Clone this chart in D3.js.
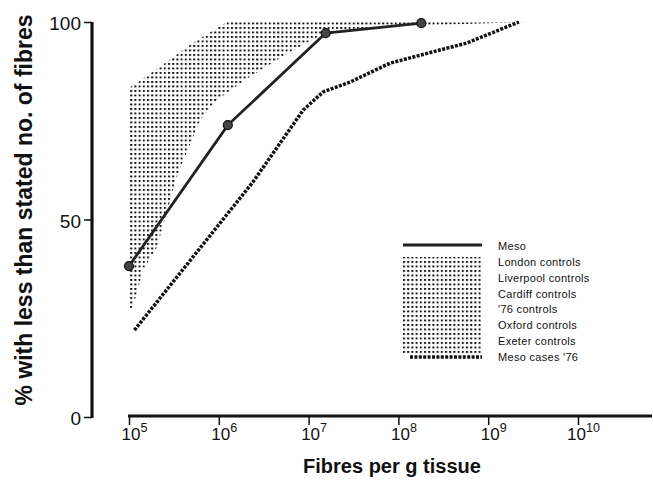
<!DOCTYPE html>
<html>
<head>
<meta charset="utf-8">
<script src="https://cdn.jsdelivr.net/npm/d3@7"></script>
<style>
  body { margin: 0; background: #fff; }
  svg { display: block; font-family: "Liberation Sans", Arial, sans-serif; }
</style>
</head>
<body>
<svg width="653" height="483"></svg>
<script>
// values
const fibresTicks = [1e5, 1e6, 1e7, 1e8, 1e9, 1e10]
const pctTicks = [0, 50, 100]

const mesoFibres = [1.0e5, 1.26e6, 1.55e7, 1.8e8]
const mesoPct = [38.2, 73.9, 97.2, 99.7]

const cases76Fibres = [1.15e5, 2.4e6, 8.7e6, 1.45e7, 2.9e7, 8.1e7, 5.8e8, 2.2e9]
const cases76Pct = [22.0, 59.5, 77.7, 82.3, 84.8, 89.6, 94.7, 100]

// envelope of the control groups (stippled band)
const ctrlUpperFibres = [1.0e5, 1.0e5, 1.23e5, 2.2e5, 5.1e5, 1.23e6, 2.8e9]
const ctrlUpperPct = [27.6, 83.3, 84.6, 88.6, 94.7, 100, 100]
const ctrlLowerFibres = [2.8e9, 2.2e8, 1.74e7, 6.2e6, 2.2e6, 9.6e5, 6.2e5, 3.4e5, 2.05e5, 1.43e5, 1.23e5, 1.08e5]
const ctrlLowerPct = [100, 99.2, 98.0, 92.4, 86.1, 80.3, 75.2, 60.8, 43.0, 37.2, 31.4, 27.6]

const legendLabels = ["Meso", "London controls", "Liverpool controls", "Cardiff controls",
  "'76 controls", "Oxford controls", "Exeter controls", "Meso cases '76"]

const svg = d3.select("svg")
const x = d3.scaleLog().domain([1e5, 1e10]).range([129, 578])
const y = d3.scaleLinear().domain([0, 100]).range([417, 22])

const defs = svg.append("defs")
defs.append("pattern").attr("id", "dots")
  .attr("patternUnits", "userSpaceOnUse").attr("width", 4.2).attr("height", 4.5)
  .append("rect").attr("width", 2).attr("height", 1.9).attr("fill", "#111")

const zip = (xs, ys) => xs.map((v, i) => [v, ys[i]])
const line = d3.line().x(d => x(d[0])).y(d => y(d[1]))

// stippled controls band
const band = zip(ctrlUpperFibres, ctrlUpperPct).concat(zip(ctrlLowerFibres, ctrlLowerPct))
svg.append("path").attr("d", line(band) + "Z").attr("fill", "url(#dots)")

// Meso cases '76
svg.append("path").attr("d", line(zip(cases76Fibres, cases76Pct)))
  .attr("fill", "none").attr("stroke", "#111").attr("stroke-width", 3.5)
  .attr("stroke-dasharray", "3,1.4")

// Meso
const meso = zip(mesoFibres, mesoPct)
svg.append("path").attr("d", line(meso))
  .attr("fill", "none").attr("stroke", "#222").attr("stroke-width", 2.8)
svg.selectAll("circle.meso").data(meso).enter().append("circle")
  .attr("class", "meso")
  .attr("cx", d => x(d[0])).attr("cy", d => y(d[1])).attr("r", 4.5)
  .attr("fill", "#444").attr("stroke", "#111").attr("stroke-width", 1.2)

// y axis
const yAxis = svg.append("g").attr("transform", "translate(92,0)")
  .call(d3.axisLeft(y).tickValues(pctTicks).tickSize(8).tickPadding(3))
yAxis.select(".domain").remove()
yAxis.selectAll(".tick line").attr("stroke", "#111").attr("stroke-width", 1.5)
yAxis.selectAll(".tick text").attr("font-size", 19).attr("fill", "#111")
  .attr("font-family", "Liberation Sans, Arial, sans-serif").attr("dy", "0.42em")
yAxis.append("line").attr("y1", y(100)).attr("y2", y(0) + 1)
  .attr("stroke", "#111").attr("stroke-width", 3.2)

// x axis
const xAxis = svg.append("g").attr("transform", "translate(0,416)")
  .call(d3.axisBottom(x).tickValues(fibresTicks).tickSize(9).tickFormat(""))
xAxis.select(".domain").remove()
xAxis.selectAll(".tick line").attr("stroke", "#111").attr("stroke-width", 1.5)
xAxis.append("line").attr("x1", x(1e5) - 1).attr("x2", 652)
  .attr("stroke", "#111").attr("stroke-width", 3)
const lab = xAxis.selectAll(".tick").append("text")
  .attr("x", 5).attr("y", 24).attr("fill", "#111").attr("text-anchor", "middle")
  .attr("font-size", 17).attr("font-family", "Liberation Sans, Arial, sans-serif")
lab.append("tspan").text("10")
lab.append("tspan").attr("dy", -8).attr("font-size", 12.5)
  .text(d => Math.round(Math.log10(d)))

// axis titles
svg.append("text").attr("x", 392).attr("y", 473).attr("text-anchor", "middle")
  .attr("font-size", 20).attr("font-weight", "bold").attr("fill", "#111")
  .text("Fibres per g tissue")
svg.append("text").attr("transform", "translate(32,210) rotate(-90)")
  .attr("text-anchor", "middle").attr("font-size", 23).attr("font-weight", "bold")
  .attr("fill", "#111").text("% with less than stated no. of fibres")

// legend
const lg = svg.append("g").attr("transform", "translate(403,0)")
lg.append("line").attr("x1", 0).attr("x2", 79).attr("y1", 245).attr("y2", 245)
  .attr("stroke", "#222").attr("stroke-width", 2.8)
lg.append("rect").attr("x", 0).attr("y", 257).attr("width", 79).attr("height", 98)
  .attr("fill", "url(#dots)")
lg.append("line").attr("x1", 7).attr("x2", 79).attr("y1", 357).attr("y2", 357)
  .attr("stroke", "#111").attr("stroke-width", 3.5).attr("stroke-dasharray", "3,1.4")
lg.selectAll("text.lab").data(legendLabels).enter().append("text")
  .attr("class", "lab")
  .attr("x", 95).attr("y", (d, i) => 250 + i * 15.85)
  .attr("font-size", 11).attr("fill", "#111").attr("letter-spacing", 0.3)
  .text(d => d)
</script>
</body>
</html>
